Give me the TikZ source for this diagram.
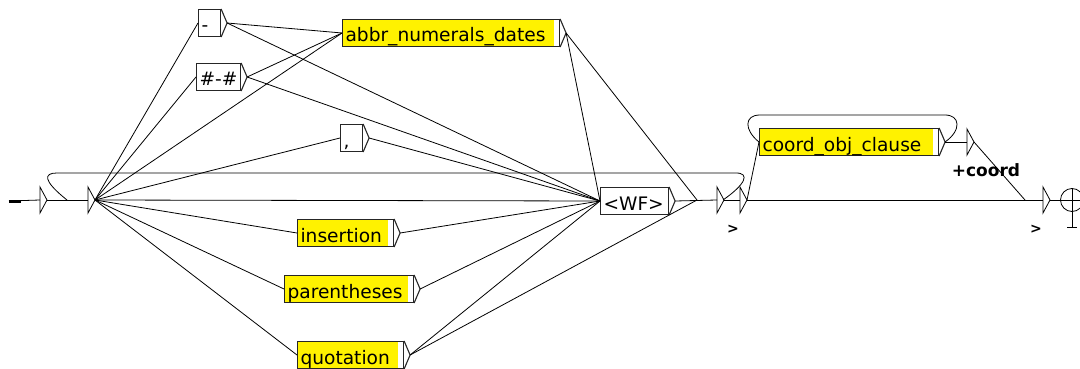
\documentclass[tikz,border=0pt]{standalone}
\usepackage{fontspec}
\setmainfont{DejaVu Sans}
\tikzstyle{gbox}=[draw=black!85, line width=1.1pt, fill=yellow, anchor=west, inner xsep=3pt, inner ysep=0pt, minimum height=27pt, align=left, text height=18pt, text depth=0pt, font=\fontsize{18.6}{20}\selectfont, path picture={\fill[white] ([xshift=-6pt]path picture bounding box.north east) rectangle (path picture bounding box.south east);}]
\tikzstyle{wbox}=[gbox, fill=white]
\tikzstyle{edge}=[line width=0.8pt]
\tikzstyle{outlbl}=[inner sep=0pt, font=\bfseries\fontsize{14}{14}\selectfont]

\begin{document}
\begin{tikzpicture}[x=1pt, y=-1pt]
            \useasboundingbox[fill=white] (0,0) rectangle (1080,369);
            \node[wbox, text width=16pt] (dash) at (198,23) {-};
            \node[wbox, text width=38pt] (hash) at (196,77) {\#-\#};
            \node[gbox, text width=211pt] (abbr) at (342,33) {abbr\_numerals\_dates};
            \node[wbox, text width=16pt] (comma) at (340,138) {,};
            \node[wbox, text width=62pt] (wf) at (600,201) {<WF>};
            \node[gbox, text width=90pt] (ins) at (297,233) {insertion};
            \node[gbox, text width=123pt] (par) at (284,289) {parentheses};
            \node[gbox, text width=100pt] (quo) at (297,355) {quotation};
            \node[gbox, text width=173pt] (coord) at (759,142) {coord\_obj\_clause};
            \foreach \b in {dash,hash,abbr,comma,wf,ins,par,quo,coord}
                \draw[line width=1.1pt, draw=black!85] (\b.north east) -- ([xshift=6pt]\b.east) -- (\b.south east);
            \coordinate (start) at (9,201);
            \coordinate (init) at (40,200);
            \coordinate (e1) at (88,200);
            \coordinate (e2) at (717,200);
            \coordinate (e3) at (740,200);
            \coordinate (e4) at (1043,200);
            \coordinate (e5) at (967,142);
            \coordinate (lp) at (67,200);
            \coordinate (j) at (697,200);
            \coordinate (k) at (1025,200);
            \coordinate (fin) at (1072,200);
            \foreach \s in {init,e1,e2,e3,e4,e5}
                \draw[edge] (\s) ++(0,-13) -- ++(7,13) -- ++(-7,13) -- cycle;
            \draw[line width=3pt] (start) -- ++(12,0);
            \draw[edge] (start) -- (init);
            \draw[edge] ([xshift=7pt]init) -- (e1);
            \draw[edge] (lp) .. controls (42,180) and (44,173) .. (57,173) -- (736,173) .. controls (750,173) and (746,184) .. ([xshift=6pt]e2);
            \foreach \b in {dash,hash,abbr,comma,wf,ins,par,quo}
                \draw[edge] ([xshift=7pt]e1) -- (\b.west);
            \draw[edge] ([xshift=6pt]dash.east) -- (abbr.west);
            \draw[edge] ([xshift=6pt]dash.east) -- (wf.west);
            \draw[edge] ([xshift=6pt]hash.east) -- (abbr.west);
            \draw[edge] ([xshift=6pt]hash.east) -- (wf.west);
            \draw[edge] ([xshift=6pt]comma.east) -- (wf.west);
            \draw[edge] ([xshift=6pt]abbr.east) -- (wf.west);
            \draw[edge] ([xshift=6pt]abbr.east) -- (j);
            \draw[edge] ([xshift=6pt]ins.east) -- (wf.west);
            \draw[edge] ([xshift=6pt]par.east) -- (wf.west);
            \draw[edge] ([xshift=6pt]quo.east) -- (wf.west);
            \draw[edge] ([xshift=6pt]quo.east) -- (j);
            \draw[edge] ([xshift=6pt]wf.east) -- (e2);
            \draw[edge] ([xshift=7pt]e2) -- (e3);
            \draw[edge] ([xshift=7pt]e3) -- (coord.west);
            \draw[edge] ([xshift=7pt]e3) -- (e4);
            \draw[edge] ([xshift=6pt]coord.east) .. controls (962,130) and (960,115) .. (945,115) -- (760,115) .. controls (744,115) and (744,130) .. (coord.west);
            \draw[edge] ([xshift=6pt]coord.east) -- (e5);
            \draw[edge] ([xshift=7pt]e5) -- (k);
            \node[outlbl, font=\bfseries\fontsize{17}{17}\selectfont] (plus) at (986,170) {+coord};
            \node[outlbl] (o1) at (733,229) {>};
            \node[outlbl] (o2) at (1036,229) {>};
            \draw[edge] ([xshift=7pt]e4) -- ([xshift=12pt]fin);
            \draw[edge] (fin) circle (11.5);
            \draw[edge] ([yshift=12pt]fin) -- ([yshift=-27pt]fin);
            \draw[edge] ([shift={(-5pt,-27pt)}]fin) -- ([shift={(5pt,-27pt)}]fin);
        \end{tikzpicture}
\end{document}
